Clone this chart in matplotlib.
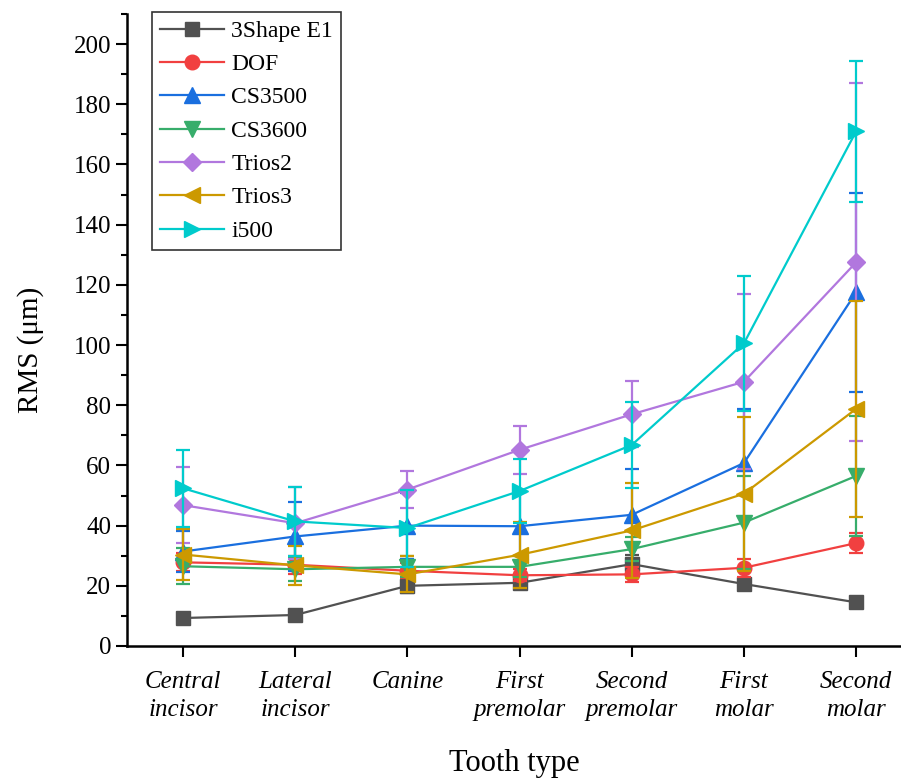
import matplotlib
matplotlib.use("Agg")
import matplotlib.pyplot as plt
from matplotlib.ticker import MultipleLocator

plt.rcParams['font.family'] = ['Liberation Serif', 'DejaVu Serif']

categories = ["Central\nincisor", "Lateral\nincisor", "Canine", "First\npremolar",
              "Second\npremolar", "First\nmolar", "Second\nmolar"]

series_names = ["3Shape E1", "DOF", "CS3500", "CS3600", "Trios2", "Trios3", "i500"]

shape_e1 = [9.3, 10.3, 20.0, 21.0, 27.2, 20.6, 14.5]
shape_e1_err = [1.0, 1.0, 2.5, 2.0, 3.0, 2.0, 1.5]
dof = [27.8, 27.0, 25.0, 23.5, 23.8, 26.0, 34.2]
dof_err = [3.0, 3.0, 2.5, 2.0, 2.5, 3.0, 3.3]
cs3500 = [31.4, 36.4, 40.0, 39.8, 43.6, 60.8, 117.5]
cs3500_err = [6.8, 11.6, 11.0, 11.5, 15.2, 18.0, 33.0]
cs3600 = [26.5, 25.5, 26.3, 26.3, 32.2, 41.0, 56.5]
cs3600_err = [6.0, 4.0, 3.5, 3.5, 4.0, 15.5, 20.0]
trios2 = [46.8, 40.8, 52.0, 65.2, 77.0, 87.8, 127.5]
trios2_err = [12.7, 12.0, 6.2, 8.0, 11.0, 29.0, 59.5]
trios3 = [30.4, 26.8, 23.8, 30.3, 38.4, 50.6, 78.8]
trios3_err = [8.5, 6.5, 6.0, 11.0, 15.7, 25.6, 36.0]
i500 = [52.4, 41.4, 39.2, 51.5, 66.8, 100.6, 171.0]
i500_err = [12.7, 11.5, 12.8, 10.5, 14.3, 22.4, 23.5]

y_ticks = [0, 20, 40, 60, 80, 100, 120, 140, 160, 180, 200]

values = [shape_e1, dof, cs3500, cs3600, trios2, trios3, i500]
errors = [shape_e1_err, dof_err, cs3500_err, cs3600_err, trios2_err, trios3_err, i500_err]
colors = ["#515151", "#F14040", "#1A6FDF", "#37AD6B", "#B177DE", "#CC9900", "#00CBCC"]
markers = ["s", "o", "^", "v", "D", "<", ">"]
msizes = [9.5, 10.5, 11, 11, 9.5, 11, 11]

fig = plt.figure(figsize=(9.01, 7.81), dpi=100)
W, H = 901, 781
ax = fig.add_axes([127 / W, (H - 646) / H, (W - 127) / W, (646 - 14) / H])

x = list(range(len(categories)))
handles = []
for i, (name, v, e, c, m, ms) in enumerate(zip(series_names, values, errors, colors, markers, msizes)):
    cont = ax.errorbar(x, v, yerr=e, color=c, marker=m, markersize=ms, lw=1.6,
                       elinewidth=1.6, capsize=5, capthick=1.6, label=name, zorder=2 + i)
    handles.append(cont.lines[0])

ax.set_xlim(-0.5, 6.4)
ax.set_ylim(0, 210)
ax.set_xticks(x)
ax.set_xticklabels(categories, fontsize=18, style='italic', linespacing=1.35)
ax.set_yticks(y_ticks)
ax.yaxis.set_minor_locator(MultipleLocator(10))
ax.tick_params(axis='y', which='major', length=8, width=1.5, labelsize=18, direction='out')
ax.tick_params(axis='y', which='minor', length=4, width=1.5, direction='out')
ax.tick_params(axis='x', which='major', length=8, width=1.5, direction='out', pad=10)

for side in ['top', 'right']:
    ax.spines[side].set_visible(False)
for side in ['left', 'bottom']:
    ax.spines[side].set_linewidth(1.8)

ax.set_xlabel("Tooth type", fontsize=22)
ax.set_ylabel("RMS (μm)", fontsize=21)
ax.xaxis.set_label_coords(0.5, (646 - 749) / 632)
ax.yaxis.set_label_coords((44 - 127) / 774, (646 - 350) / 632)

leg = ax.legend(handles, series_names, loc='upper left', bbox_to_anchor=(152 / W, 1 - 12 / H),
                bbox_transform=fig.transFigure, borderaxespad=0, fontsize=17,
                frameon=True, fancybox=False, edgecolor='black', handlelength=2.7,
                labelspacing=0.5, handletextpad=0.3, borderpad=0.35)
leg.get_frame().set_linewidth(1.2)

fig.savefig("out.png", dpi=100)
